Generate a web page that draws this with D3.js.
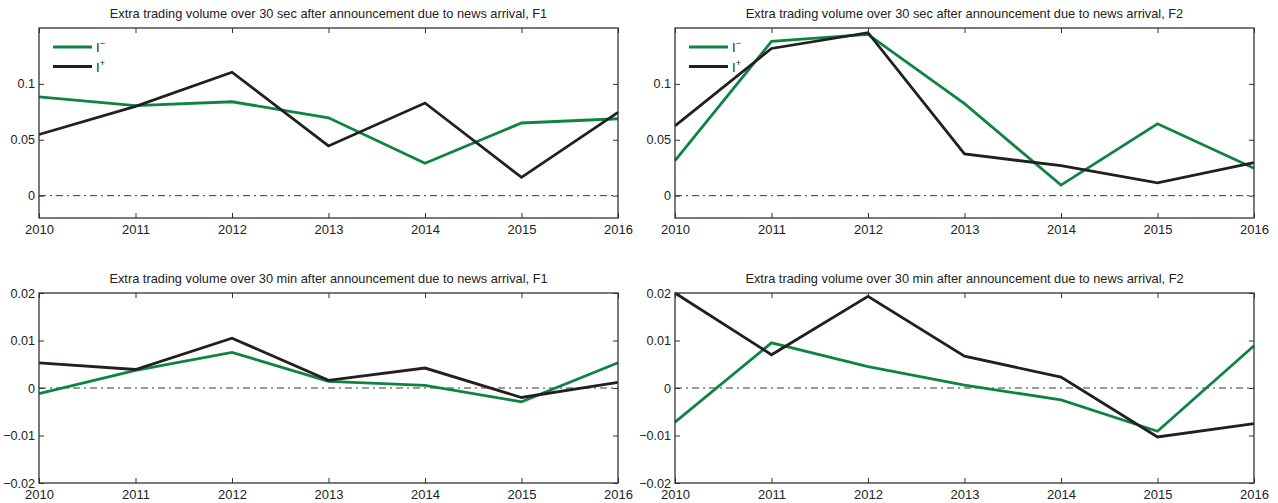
<!DOCTYPE html>
<html><head><meta charset="utf-8">
<script src="https://cdn.jsdelivr.net/npm/d3@7"></script>
<style>
html,body{margin:0;padding:0;background:#fff;}
svg{display:block;font-family:"Liberation Sans",Arial,sans-serif;}
</style></head>
<body>
<svg id="chart" width="1278" height="503"></svg>
<script>
const years = [2010, 2011, 2012, 2013, 2014, 2015, 2016];
const titles = [
  "Extra trading volume over 30 sec after announcement due to news arrival, F1",
  "Extra trading volume over 30 sec after announcement due to news arrival, F2",
  "Extra trading volume over 30 min after announcement due to news arrival, F1",
  "Extra trading volume over 30 min after announcement due to news arrival, F2"
];
const secF1Minus = [0.0883, 0.0805, 0.0840, 0.0697, 0.0290, 0.0650, 0.0688];
const secF1Plus  = [0.0547, 0.0799, 0.1104, 0.0445, 0.0829, 0.0164, 0.0745];
const secF2Minus = [0.0313, 0.1380, 0.1443, 0.0823, 0.0094, 0.0643, 0.0245];
const secF2Plus  = [0.0625, 0.1317, 0.1458, 0.0373, 0.0268, 0.0115, 0.0295];
const minF1Minus = [-0.0012, 0.0037, 0.0075, 0.0014, 0.00055, -0.0029, 0.0053];
const minF1Plus  = [0.0053, 0.0039, 0.0105, 0.0016, 0.0042, -0.0020, 0.0012];
const minF2Minus = [-0.0072, 0.0095, 0.0045, 0.0006, -0.0025, -0.0091, 0.0089];
const minF2Plus  = [0.0200, 0.0070, 0.0193, 0.0067, 0.0023, -0.0103, -0.0075];
const secTicks = [0, 0.05, 0.1];
const secTickLabels = ["0", "0.05", "0.1"];
const minTicks = [-0.02, -0.01, 0, 0.01, 0.02];
const minTickLabels = ["\u22120.02", "\u22120.01", "0", "0.01", "0.02"];
const secDomain = [-0.02, 0.15];
const minDomain = [-0.02, 0.02];

const GREEN = "#0f8442", BLACK = "#231f20";
const svg = d3.select("#chart");

const panels = [
  {x0:39, x1:618, y0:28, y1:218, title:titles[0], dom:secDomain, ticks:secTicks, labels:secTickLabels, minus:secF1Minus, plus:secF1Plus, legend:true},
  {x0:675, x1:1254, y0:28, y1:218, title:titles[1], dom:secDomain, ticks:secTicks, labels:secTickLabels, minus:secF2Minus, plus:secF2Plus, legend:true},
  {x0:39, x1:618, y0:293, y1:483, title:titles[2], dom:minDomain, ticks:minTicks, labels:minTickLabels, minus:minF1Minus, plus:minF1Plus, legend:false},
  {x0:675, x1:1254, y0:293, y1:483, title:titles[3], dom:minDomain, ticks:minTicks, labels:minTickLabels, minus:minF2Minus, plus:minF2Plus, legend:false}
];

panels.forEach(p => {
  const x = d3.scaleLinear().domain([2010, 2016]).range([p.x0, p.x1]);
  const y = d3.scaleLinear().domain(p.dom).range([p.y1, p.y0]);
  const g = svg.append("g");

  // title
  g.append("text").attr("x", (p.x0 + p.x1) / 2).attr("y", p.y0 - 10)
    .attr("text-anchor", "middle").attr("font-size", 12.8).attr("fill", "#222")
    .text(p.title);

  // zero line
  g.append("line").attr("x1", p.x0).attr("x2", p.x1).attr("y1", y(0)).attr("y2", y(0))
    .attr("stroke", "#222").attr("stroke-width", 0.9).attr("stroke-dasharray", "7,4,2,4");

  // series
  const line = d3.line().x((d, i) => x(years[i])).y(d => y(d));
  g.append("path").datum(p.minus).attr("d", line).attr("fill", "none")
    .attr("stroke", GREEN).attr("stroke-width", 2.8).attr("stroke-linejoin", "miter");
  g.append("path").datum(p.plus).attr("d", line).attr("fill", "none")
    .attr("stroke", BLACK).attr("stroke-width", 2.8).attr("stroke-linejoin", "miter");

  // axes (ticks inside, MATLAB-style)
  const tl = 5;
  const axB = d3.axisBottom(x).tickValues(years).tickFormat(d3.format("d")).tickSizeInner(-tl).tickSizeOuter(0).tickPadding(7);
  const axT = d3.axisTop(x).tickValues(years).tickFormat("").tickSizeInner(-tl).tickSizeOuter(0);
  const axL = d3.axisLeft(y).tickValues(p.ticks).tickFormat((d, i) => p.labels[i]).tickSizeInner(-tl).tickSizeOuter(0).tickPadding(4);
  const axR = d3.axisRight(y).tickValues(p.ticks).tickFormat("").tickSizeInner(-tl).tickSizeOuter(0);
  [[axB, `translate(0,${p.y1})`, 13], [axT, `translate(0,${p.y0})`, 13], [axL, `translate(${p.x0},0)`, 12.6], [axR, `translate(${p.x1},0)`, 13]]
    .forEach(([ax, tr, fs]) => {
      const a = g.append("g").attr("transform", tr).call(ax);
      a.select(".domain").remove();
      a.selectAll(".tick line").attr("stroke", "#333").attr("stroke-width", 1);
      a.selectAll(".tick text").attr("font-size", fs).attr("fill", "#222")
        .attr("font-family", "Liberation Sans, Arial, sans-serif");
    });

  // box
  g.append("rect").attr("x", p.x0).attr("y", p.y0).attr("width", p.x1 - p.x0).attr("height", p.y1 - p.y0)
    .attr("fill", "none").attr("stroke", "#333").attr("stroke-width", 1.3);

  if (p.legend) {
    const items = [{c: GREEN, s: "\u2212"}, {c: BLACK, s: "+"}];
    items.forEach((it, i) => {
      const ly = p.y0 + 19 + i * 19.5;
      g.append("line").attr("x1", p.x0 + 14).attr("x2", p.x0 + 53).attr("y1", ly).attr("y2", ly)
        .attr("stroke", it.c).attr("stroke-width", 2.8);
      const t = g.append("text").attr("x", p.x0 + 57).attr("y", ly + 5)
        .attr("font-size", 13).attr("fill", "#222");
      t.append("tspan").text("I");
      t.append("tspan").attr("dy", -6).attr("font-size", 9).text(it.s);
    });
  }
});
</script>
</body></html>
